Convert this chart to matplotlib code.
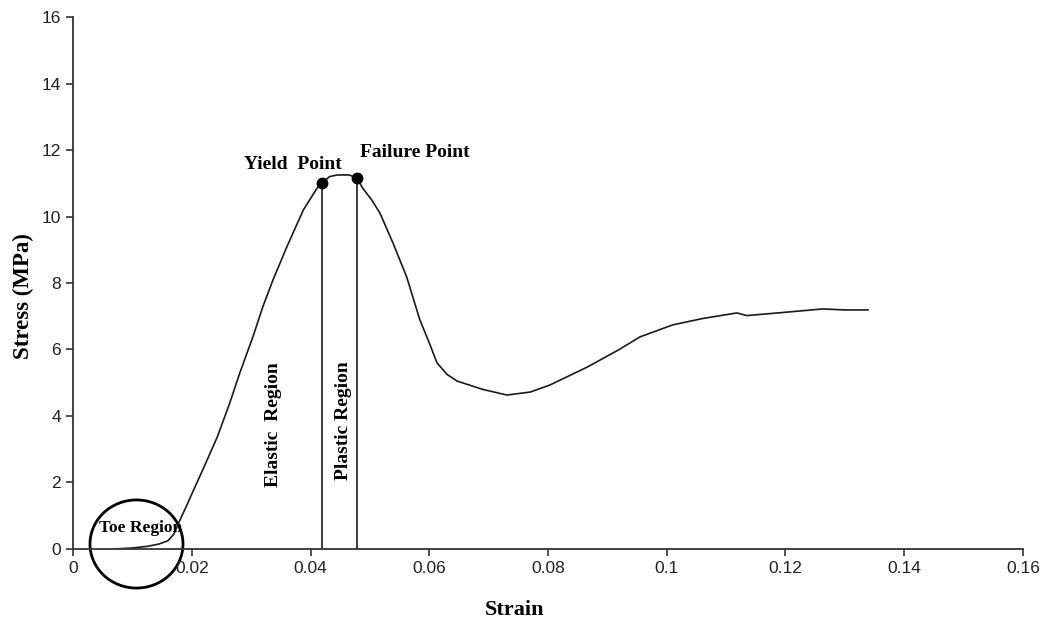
import matplotlib.pyplot as plt
from matplotlib.patches import Ellipse
from matplotlib.ticker import FuncFormatter, MultipleLocator

# stress-strain curve
strain = [0.0070, 0.0100, 0.0125, 0.0145, 0.0160, 0.0170, 0.0177, 0.0190, 0.0205,
          0.0219, 0.0243, 0.0264, 0.0281, 0.0303, 0.0320, 0.0337, 0.0360, 0.0388,
          0.0411, 0.0419, 0.0432, 0.0445, 0.0465, 0.0478, 0.0488, 0.0503, 0.0517,
          0.0539, 0.0562, 0.0584, 0.0600, 0.0613, 0.0630, 0.0647, 0.0690, 0.0731,
          0.0770, 0.0803, 0.0866, 0.0920, 0.0955, 0.1010, 0.1060, 0.1118, 0.1135,
          0.1200, 0.1263, 0.1300, 0.1339]
stress = [0.00, 0.03, 0.08, 0.15, 0.25, 0.45, 0.75, 1.25, 1.85,
          2.40, 3.37, 4.39, 5.30, 6.38, 7.30, 8.10, 9.08, 10.20,
          10.85, 11.00, 11.20, 11.25, 11.25, 11.16, 10.85, 10.50, 10.10,
          9.20, 8.18, 6.90, 6.20, 5.60, 5.25, 5.05, 4.80, 4.63,
          4.72, 4.93, 5.47, 6.00, 6.38, 6.74, 6.93, 7.10, 7.02,
          7.12, 7.22, 7.19, 7.19]

yield_pt = (0.0419, 11.0)
failure_pt = (0.0478, 11.16)

serif = 'Liberation Serif'
sans = 'Liberation Sans'

fig = plt.figure(figsize=(10.46, 6.23), dpi=100)
ax = fig.add_axes([0.0698, 0.1188, 0.9082, 0.8539])

ax.plot(strain, stress, color='#1a1a1a', lw=1.2)

# yield / failure markers and vertical lines
for px, py in [yield_pt, failure_pt]:
    ax.plot([px, px], [0, py], color='#1a1a1a', lw=1.2)
    ax.plot(px, py, 'o', color='black', ms=7.5)

ax.text(0.0288, 11.3, 'Yield  Point', fontfamily=serif, fontweight='bold', fontsize=14, va='bottom')
ax.text(0.0483, 11.68, 'Failure Point', fontfamily=serif, fontweight='bold', fontsize=14, va='bottom')
ax.text(0.0337, 3.75, 'Elastic  Region', fontfamily=serif, fontweight='bold', fontsize=14,
        rotation=90, ha='center', va='center')
ax.text(0.0456, 3.85, 'Plastic Region', fontfamily=serif, fontweight='bold', fontsize=14,
        rotation=90, ha='center', va='center')

# toe region circle
ax.add_patch(Ellipse((0.01069, 0.15), 0.01566, 2.65, fill=False, color='black', lw=2, clip_on=False))
ax.text(0.0044, 0.62, 'Toe Region', fontfamily=serif, fontweight='bold', fontsize=12.5, va='center')

ax.set_xlim(0, 0.16)
ax.set_ylim(0, 16)
ax.xaxis.set_major_locator(MultipleLocator(0.02))
ax.yaxis.set_major_locator(MultipleLocator(2))
fmt = FuncFormatter(lambda v, p: '%g' % round(v, 4))
ax.xaxis.set_major_formatter(fmt)
ax.yaxis.set_major_formatter(fmt)

for s in ['top', 'right']:
    ax.spines[s].set_visible(False)
for s in ['left', 'bottom']:
    ax.spines[s].set_color('#333333')
    ax.spines[s].set_linewidth(1.3)
ax.tick_params(direction='out', length=5, width=1.2, color='#333333', labelsize=12.5, labelcolor='#222222')
for lab in ax.get_xticklabels() + ax.get_yticklabels():
    lab.set_fontfamily(sans)

ax.set_xlabel('Strain', fontfamily=serif, fontweight='bold', fontsize=16)
ax.set_ylabel('Stress (MPa)', fontfamily=serif, fontweight='bold', fontsize=16.5)
ax.xaxis.set_label_coords((515 - 73) / 950, -(600 - 549) / 532)
ax.yaxis.set_label_coords(-(73 - 34) / 950, (549 - 296) / 532)

fig.savefig('out.png', dpi=100)
